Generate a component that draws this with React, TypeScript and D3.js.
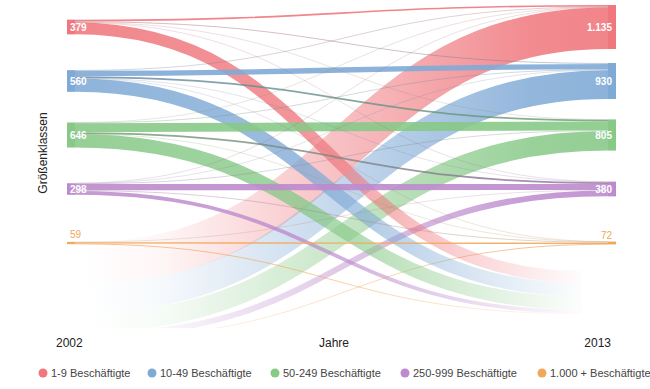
import React from 'react';
import * as d3 from 'd3';

const categories = ['1-9 Beschäftigte', '10-49 Beschäftigte', '50-249 Beschäftigte', '250-999 Beschäftigte', '1.000 + Beschäftigte'];
const colors = ['#ef777d', '#80aad6', '#88c988', '#bd8bcd', '#f1a85a'];
const totals2002 = [379, 560, 646, 298, 59];
const totals2013 = [1135, 930, 805, 380, 72];
const labels2002 = ['379', '560', '646', '298', '59'];
const labels2013 = ['1.135', '930', '805', '380', '72'];
// flows from each 2002 class to the 2013 classes
const from19 = [40, 25, 8, 3, 0];
const from1049 = [15, 140, 45, 10, 3];
const from50249 = [5, 15, 230, 45, 4];
const from250999 = [2, 5, 15, 160, 20];
const from1000 = [0, 0, 0, 8, 35];
const exits2002 = [303, 347, 347, 96, 16];
const entries2013 = [1073, 745, 507, 154, 10];
const years = ['2002', '2013'];
const xTitle = 'Jahre';
const yTitle = 'Größenklassen';

const FONT = '"Liberation Sans", Arial, sans-serif';

export default function App() {
  const W = 650, H = 389;
  const flows = [from19, from1049, from50249, from250999, from1000];
  const idx = d3.range(categories.length);
  const yCenter = d3.scalePoint<number>().domain(idx).range([27, 243]);
  const thick = d3.scaleLinear().domain([0, 1135]).range([0, 44]);
  const xL = 67, nodeW = 8, xR = 616;
  const lx = xL + nodeW, rx = xR - nodeW;
  const xEntry = 85, yEntry = 242, xExit = 582, yExit = 271;
  const linkGen = d3.linkHorizontal();

  const leftOff = totals2002.map((t, i) => (yCenter(i) as number) - thick(t) / 2);
  const rightOff = totals2013.map((t, j) => (yCenter(j) as number) - thick(t) / 2);

  const cross: any[] = [];
  idx.forEach(i => {
    idx.forEach(j => {
      const v = flows[i][j];
      if (v <= 0) return;
      const w = thick(v);
      const y0 = leftOff[i] + w / 2; leftOff[i] += w;
      const y1 = rightOff[j] + w / 2; rightOff[j] += w;
      cross.push({ i, j, w, y0, y1 });
    });
  });
  let exOff = yExit;
  const exits = idx.map(i => {
    const w = thick(exits2002[i]);
    const y0 = leftOff[i] + w / 2; leftOff[i] += w;
    const y1 = exOff + w / 2; exOff += w;
    return { i, w, y0, y1 };
  });
  let enOff = yEntry;
  const entries = idx.map(j => {
    const w = thick(entries2013[j]);
    const y0 = enOff + w / 2; enOff += w;
    const y1 = rightOff[j] + w / 2; rightOff[j] += w;
    return { j, w, y0, y1 };
  });

  const shade = (c: string, l: any) =>
    (l.i !== l.j && l.w < 2 ? (d3.color(c) as any).darker(0.7).formatHex() : c);
  const opac = (l: any) => (l.i === l.j ? 0.9 : l.w < 0.5 ? 0.3 : l.w < 1 ? 0.45 : 0.8);

  const sorted = [...cross].sort((a, b) => b.w - a.w);

  return (
    <svg width={W} height={H} style={{ position: 'absolute', left: 0, top: 0, background: '#fff' }} fontFamily={FONT}>
      <defs>
        <clipPath id="clipBottom">
          <rect x={0} y={0} width={W} height={328} />
        </clipPath>
        {idx.map(j => (
          <linearGradient key={'en' + j} id={'en' + j} gradientUnits="userSpaceOnUse" x1={xEntry} x2={rx} y1={0} y2={0}>
            <stop offset="0" stopColor={colors[j]} stopOpacity={0} />
            <stop offset="0.15" stopColor={colors[j]} stopOpacity={0.07} />
            <stop offset="0.5" stopColor={colors[j]} stopOpacity={0.48} />
            <stop offset="0.85" stopColor={colors[j]} stopOpacity={0.85} />
            <stop offset="1" stopColor={colors[j]} stopOpacity={0.9} />
          </linearGradient>
        ))}
        {idx.map(i => (
          <linearGradient key={'ex' + i} id={'ex' + i} gradientUnits="userSpaceOnUse" x1={lx} x2={xExit} y1={0} y2={0}>
            <stop offset="0" stopColor={colors[i]} stopOpacity={0.88} />
            <stop offset="0.45" stopColor={colors[i]} stopOpacity={0.78} />
            <stop offset="0.8" stopColor={colors[i]} stopOpacity={0.28} />
            <stop offset="1" stopColor={colors[i]} stopOpacity={0.02} />
          </linearGradient>
        ))}
        {cross.map((l, k) => (
          <linearGradient key={'cr' + k} id={'cr' + k} gradientUnits="userSpaceOnUse" x1={lx} x2={rx} y1={0} y2={0}>
            <stop offset="0" stopColor={shade(colors[l.i], l)} />
            <stop offset="1" stopColor={shade(colors[l.j], l)} />
          </linearGradient>
        ))}
      </defs>

      <g clipPath="url(#clipBottom)">
        {entries.map(l => (
          <path key={'e' + l.j} d={linkGen({ source: [xEntry, l.y0], target: [rx, l.y1] } as any) as string}
            fill="none" stroke={`url(#en${l.j})`} strokeWidth={Math.max(l.w, 0.8)} />
        ))}
      </g>
      {exits.map(l => (
        <path key={'x' + l.i} d={linkGen({ source: [lx, l.y0], target: [xExit, l.y1] } as any) as string}
          fill="none" stroke={`url(#ex${l.i})`} strokeWidth={Math.max(l.w, 0.8)} />
      ))}
      {sorted.map(l => {
        const k = cross.indexOf(l);
        return (
          <path key={'c' + k} d={linkGen({ source: [lx, l.y0], target: [rx, l.y1] } as any) as string}
            fill="none" stroke={`url(#cr${k})`} strokeOpacity={opac(l)}
            strokeWidth={Math.max(l.w, 0.7)} />
        );
      })}

      {idx.map(i => {
        const h = Math.max(thick(totals2002[i]), 2);
        return <rect key={'ln' + i} x={xL} y={(yCenter(i) as number) - h / 2} width={nodeW} height={h} fill={colors[i]} />;
      })}
      {idx.map(j => {
        const h = Math.max(thick(totals2013[j]), 2);
        return <rect key={'rn' + j} x={rx} y={(yCenter(j) as number) - h / 2} width={nodeW} height={h} fill={colors[j]} />;
      })}

      {idx.map(i => {
        const small = thick(totals2002[i]) < 8;
        return (
          <text key={'ll' + i} x={70} y={small ? (yCenter(i) as number) - 5 : (yCenter(i) as number) + 3.5}
            fontSize={10} fontWeight={small ? 'normal' : 'bold'} fill={small ? colors[i] : '#fff'}>{labels2002[i]}</text>
        );
      })}
      {idx.map(j => {
        const small = thick(totals2013[j]) < 8;
        return (
          <text key={'rl' + j} x={612} y={small ? (yCenter(j) as number) - 4 : (yCenter(j) as number) + 3.5} textAnchor="end"
            fontSize={10} fontWeight={small ? 'normal' : 'bold'} fill={small ? colors[j] : '#fff'}>{labels2013[j]}</text>
        );
      })}

      <text transform="translate(47,153) rotate(-90)" textAnchor="middle" fontSize={12} fill="#222">{yTitle}</text>
      <text x={56} y={347} fontSize={12} fill="#222">{years[0]}</text>
      <text x={334} y={347} fontSize={12} fill="#222" textAnchor="middle">{xTitle}</text>
      <text x={611} y={347} fontSize={12} fill="#222" textAnchor="end">{years[1]}</text>

      {categories.map((c, i) => {
        const xs = [43, 152, 275, 405, 542];
        return (
          <g key={'lg' + i} transform={`translate(${xs[i]},373)`}>
            <circle r={4.5} fill={colors[i]} />
            <text x={8} y={4} fontSize={11} fill="#444">{c}</text>
          </g>
        );
      })}
    </svg>
  );
}
